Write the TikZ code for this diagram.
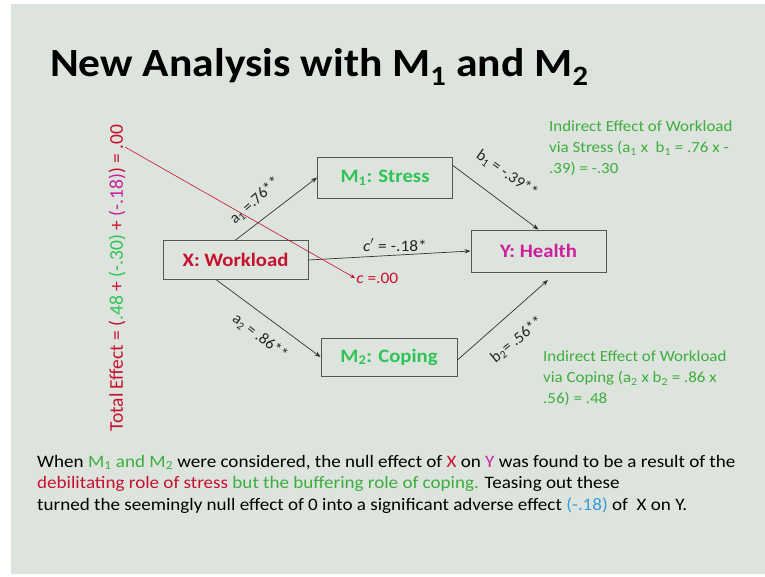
\documentclass[tikz,border=0pt]{standalone}
\usepackage{fontspec}
\setmainfont{Carlito}
\usetikzlibrary{arrows.meta}
\definecolor{slidebg}{HTML}{DDE3DD}
\definecolor{xred}{HTML}{C8102E}
\definecolor{mgreen}{HTML}{2FC456}
\definecolor{tgreen}{HTML}{3DAE3D}
\definecolor{ymag}{HTML}{CC1F9E}
\definecolor{lblue}{HTML}{3A9AD9}
\definecolor{boxline}{HTML}{555555}
\tikzset{
  wide/.style={xscale=1.09},
  varbox/.style={draw=boxline, line width=0.9pt, minimum width=#1, inner sep=0pt},
  varlabel/.style={inner sep=0pt, wide, font=\fontsize{19}{22}\selectfont\bfseries},
  path/.style={draw=black!80, line width=0.7pt, -{Stealth[length=6pt,width=4.5pt]}},
  coef/.style={font=\fontsize{16}{18}\selectfont, text=black!85, inner sep=1pt},
  note/.style={font=\fontsize{15.5}{21}\selectfont, text=tgreen, align=left, anchor=north west, inner sep=0pt, wide},
}
\begin{document}
\begin{tikzpicture}[x=1pt,y=-1pt]
\path[use as bounding box, fill=white] (0,0) rectangle (765,576);
\fill[slidebg] (11,4) rectangle (765,574);

% title
\node[anchor=base west, inner sep=0pt, wide, font=\fontsize{40}{42}\selectfont\bfseries] (title) at (50,76)
  {New Analysis with M\textsubscript{1} and M\textsubscript{2}};

% variable boxes
\node[varbox=145pt, minimum height=39pt] (X) at (235.5,260) {};
\node[varbox=135pt, minimum height=41pt] (M1) at (385,177.5) {};
\node[varbox=135pt, minimum height=42pt] (Y) at (538.5,251) {};
\node[varbox=136pt, minimum height=38pt] (M2) at (389,357) {};
\node[varlabel, text=xred] (Xt) at (X) {X: Workload};
\node[varlabel, text=mgreen] (M1t) at (M1) {M\textsubscript{1}: Stress};
\node[varlabel, text=ymag] (Yt) at (Y) {Y: Health};
\node[varlabel, text=mgreen] (M2t) at (M2) {M\textsubscript{2}: Coping};

% paths
\coordinate (b2end) at (548,280);
\draw[path] (X.north) -- (M1.west);
\draw[path] (M1.east) ++(0,-12) -- (Y.north);
\draw[path] (X.east) -- (Y.west);
\draw[path] ([xshift=-19pt]X.south) -- (M2.west);
\draw[path] ([yshift=-3pt]M2.east) -- (b2end);

% coefficients
\node[coef, rotate=42] (a1) at (255,201) {a\textsubscript{1} =.76**};
\node[coef, rotate=-35] (b1) at (507,174) {b\textsubscript{1} = -.39**};
\node[coef, wide] (cp) at (395,245) {\textit{c}$'$ = -.18*};
\node[coef, rotate=-38] (a2) at (260,337) {a\textsubscript{2} = .86**};
\node[coef, rotate=39] (b2) at (517,340) {b\textsubscript{2}= .56**};

% total effect
\node[rotate=90, inner sep=0pt, font=\fontsize{19.5}{22}\selectfont] (total) at (117,278)
  {\textcolor{xred}{Total Effect = (}\textcolor{mgreen}{.48} \textcolor{xred}{+} \textcolor{mgreen}{(-.30)} \textcolor{xred}{+} \textcolor{ymag}{(-.18)}\textcolor{xred}{) = .00}};
\node[coef, text=xred, anchor=west, wide] (c) at (355,278) {\textit{c} =.00};
\coordinate (cstart) at (125,147);
\draw[xred, line width=0.6pt, -{Stealth[length=5pt,width=4pt]}] (cstart) -- (c.west);

% indirect effects
\node[note] (ind1) at (549,121) {Indirect Effect of Workload\\via Stress (a\textsubscript{1} x\ \ b\textsubscript{1} = .76 x -\\.39) = -.30};
\node[note] (ind2) at (543,351) {Indirect Effect of Workload\\via Coping (a\textsubscript{2} x b\textsubscript{2} = .86 x\\.56) = .48};

% conclusion
\node[anchor=north west, inner sep=0pt, align=left, wide, font=\fontsize{17.5}{21.5}\selectfont] (para) at (37,455)
  {When \textcolor{tgreen}{M\textsubscript{1} and M\textsubscript{2}} were considered, the null effect of \textcolor{xred}{X} on \textcolor{ymag}{Y} was found to be a result of the\\
  \textcolor{xred}{debilitating role of stress} \textcolor{tgreen}{but the buffering role of coping.} Teasing out these\\
  turned the seemingly null effect of 0 into a significant adverse effect \textcolor{lblue}{(-.18)} of\ \ X on Y.};
\end{tikzpicture}
\end{document}
